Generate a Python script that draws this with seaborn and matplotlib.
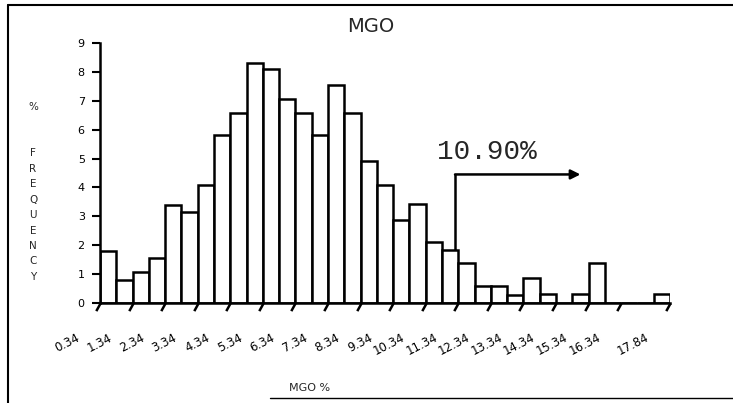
import numpy as np
import pandas as pd
import matplotlib
matplotlib.use("Agg")
import matplotlib.pyplot as plt
import matplotlib.transforms as mtrans
from matplotlib.lines import Line2D
from matplotlib.path import Path
import seaborn as sns

# ---- data ----
bin_start = 0.0
bin_width = 0.5
freq = [1.80, 0.80, 1.09, 1.57, 3.40, 3.15, 4.10, 5.83, 6.59, 8.32,
        8.09, 7.05, 6.59, 5.83, 7.55, 6.59, 4.90, 4.10, 2.86, 3.43,
        2.10, 1.84, 1.38, 0.59, 0.59, 0.28, 0.86, 0.30, 0.00, 0.30,
        1.38, 0.00, 0.00, 0.00, 0.30]
xtick_pos = [0, 1, 2, 3, 4, 5, 6, 7, 8, 9, 10, 11, 12, 13, 14, 15, 16, 17.5]
xtick_labels = ["0.34", "1.34", "2.34", "3.34", "4.34", "5.34", "6.34", "7.34",
                "8.34", "9.34", "10.34", "11.34", "12.34", "13.34", "14.34",
                "15.34", "16.34", "17.84"]
ytick_pos = [0, 1, 2, 3, 4, 5, 6, 7, 8, 9]
threshold = 10.90
threshold_label = "10.90%"
arrow_level = 4.45
arrow_end = 14.75
title = "MGO"
xlabel = "MGO %"
ylabel = "%\n\n\nF\nR\nE\nQ\nU\nE\nN\nC\nY"

edges = bin_start + bin_width * np.arange(len(freq) + 1)
centers = edges[:-1] + bin_width / 2
df = pd.DataFrame({"mgo": centers, "freq": freq})

sns.set_style("white")
plt.rcParams["font.family"] = ["DejaVu Sans"]

W, H = 733, 403
fig = plt.figure(figsize=(W / 100, H / 100), dpi=100)
ax = fig.add_axes([100 / W, 1 - 303 / H, 570 / W, 260 / H])

sns.histplot(data=df, x="mgo", weights="freq", binwidth=bin_width,
             binrange=(float(edges[0]), float(edges[-1])), ax=ax,
             color="white", edgecolor="black", linewidth=1.8, alpha=1)

ax.set_xlim(edges[0], edges[-1])
ax.set_ylim(0, 9)
ax.set_ylabel("")
ax.set_xlabel(xlabel, fontsize=8)
ax.xaxis.set_label_coords((310 - 100) / 570, (303 - 383) / 260)

for s in ["top", "right"]:
    ax.spines[s].set_visible(False)
for s in ["left", "bottom"]:
    ax.spines[s].set_linewidth(1.8)
    ax.spines[s].set_color("black")

ax.set_yticks(ytick_pos)
ax.tick_params(axis="y", length=6, width=1.5, direction="out", pad=5,
               labelsize=8, left=True, colors="black")

ax.set_xticks(xtick_pos)
ax.set_xticklabels(xtick_labels, rotation=27, ha="right", va="baseline",
                   rotation_mode="anchor", fontsize=8.5)
ax.tick_params(axis="x", length=0, pad=0, bottom=True, colors="black")
slant = Path([(0, 0), (-0.55, -1)], [Path.MOVETO, Path.LINETO])
for t in ax.xaxis.get_major_ticks():
    t.tick1line.set_marker(slant)
    t.tick1line.set_markersize(11)
    t.tick1line.set_markeredgewidth(1.8)
    t.tick1line.set_markeredgecolor("black")
offset = mtrans.ScaledTranslation(-20 / 100, -37 / 100, fig.dpi_scale_trans)
for lab in ax.get_xticklabels():
    lab.set_transform(lab.get_transform() + offset)

# threshold marker with arrow
bar_at = freq[int((threshold - bin_start) // bin_width)]
ax.plot([threshold, threshold], [bar_at, arrow_level], color="black", lw=1.8,
        solid_capstyle="butt")
ax.annotate("", xy=(arrow_end, arrow_level), xytext=(threshold, arrow_level),
            arrowprops=dict(arrowstyle="-|>", color="black", lw=1.8,
                            mutation_scale=14, shrinkA=0, shrinkB=0))
ax.text(threshold - 0.55, 4.97, threshold_label, fontsize=20,
        family=["Liberation Mono", "DejaVu Sans Mono"], ha="left", va="baseline")

fig.text(371 / W, 1 - 26 / H, title, ha="center", va="center", fontsize=14)
fig.text(33 / W, 1 - 192 / H, ylabel, ha="center", va="center", fontsize=7.5,
         linespacing=1.68)

# page frame
fig.add_artist(Line2D([8 / W, 1], [1 - 5 / H, 1 - 5 / H], color="black", lw=1.5))
fig.add_artist(Line2D([8 / W, 8 / W], [0, 1 - 5 / H], color="black", lw=1.5))
fig.add_artist(Line2D([270 / W, 1], [1 - 398 / H, 1 - 398 / H], color="black",
                      lw=1.0))

fig.savefig("out.png", dpi=100)
